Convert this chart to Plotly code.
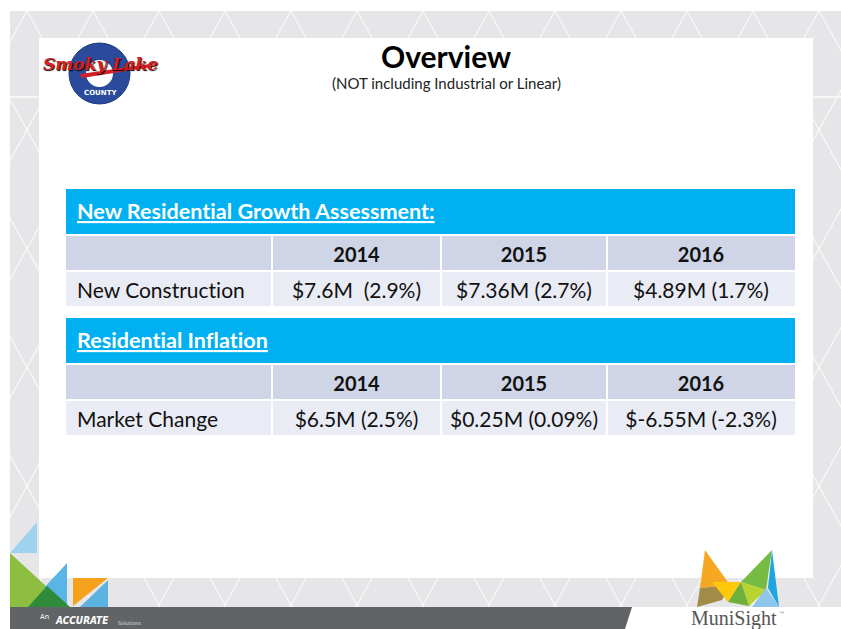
import plotly.graph_objects as go

W, H = 841, 629

# ---------------- data ----------------
title = "Overview"
subtitle = "(NOT including Industrial or Linear)"
years = ["2014", "2015", "2016"]
section1_title = "New Residential Growth Assessment:"
section1_label = "New Construction"
section1_values = ["$7.6M  (2.9%)", "$7.36M (2.7%)", "$4.89M (1.7%)"]
section2_title = "Residential Inflation"
section2_label = "Market Change"
section2_values = ["$6.5M (2.5%)", "$0.25M (0.09%)", "$-6.55M (-2.3%)"]

# ---------------- layout constants ----------------
FONT = "Lato, Calibri, sans-serif"
BLUE = "#00B0F0"
HEAD_FILL = "#CFD5E6"
ROW_FILL = "#E9EBF5"
BG_GRAY = "#E6E6E9"
COL_EDGES = [66, 272, 441, 607, 795]
GAP = 2
TABLE_TOPS = [189, 318]
BAND_H = 45
ROW_H = 34
TEXT_DY = 4  # trace text baseline correction


def nolig(s):
    # break font ligatures (ti, fl) so text looks like the original
    return s.replace("ti", "t\u200ci").replace("fl", "f\u200cl")


shapes = []
annotations = []


def rect(x0, y0, x1, y1, color):
    shapes.append(dict(type="rect", xref="x", yref="y", x0=x0, y0=y0, x1=x1, y1=y1,
                       fillcolor=color, line=dict(width=0), layer="below"))


def poly(pts, color):
    d = "M " + " L ".join(f"{x},{y}" for x, y in pts) + " Z"
    shapes.append(dict(type="path", xref="x", yref="y", path=d, fillcolor=color,
                       line=dict(width=0), layer="below"))


def seg(x0, y0, x1, y1, color, width):
    shapes.append(dict(type="line", xref="x", yref="y", x0=x0, y0=y0, x1=x1, y1=y1,
                       line=dict(color=color, width=width), layer="below"))


# ---------------- slide background ----------------
rect(10, 11, 841, 607, BG_GRAY)
slope = 1.8
ytop, ybot = 11, 607
for m in range(-14, 26):
    x0 = 27 + 66 * m
    seg(x0, ytop, x0 + (ybot - ytop) / slope, ybot, "rgba(255,255,255,0.75)", 1.2)
    seg(x0, ytop, x0 - (ybot - ytop) / slope, ybot, "rgba(255,255,255,0.75)", 1.2)
seg(10, 97, 841, 97, "rgba(255,255,255,0.9)", 1.5)
rect(0, 0, 10, 629, "white")
rect(39, 38, 813, 578, "white")

# bottom-left decoration
poly([(37, 522), (10, 553), (37, 553)], "#9FD2EE")
poly([(10, 553), (48, 588), (38, 607), (10, 607)], "#8DBE3F")
poly([(43, 589), (67, 563), (67, 607)], "#5AB4E5")
poly([(28, 607), (47, 586), (70, 607)], "#2E8B3A")
poly([(73, 578), (108, 578), (73, 606)], "#F5A11C")
poly([(108, 580), (108, 607), (80, 607)], "#5CB2E0")

# bottom dark bar
poly([(10, 607), (632, 607), (625, 629), (10, 629)], "#616467")

# MuniSight logo area (white behind) and mark
rect(686, 607, 800, 629, "white")
poly([(705, 550), (730, 585), (700, 588)], "#F7A823")
poly([(700, 588), (730, 585), (722, 600), (697, 607)], "#A08C48")
poly([(712, 582), (741, 582), (728, 602)], "#FFC80A")
poly([(772, 550), (741, 582), (766, 590)], "#76BC43")
poly([(741, 582), (766, 590), (749, 606)], "#B7D433")
poly([(772, 550), (779, 607), (768, 588)], "#1FA5DF")
poly([(766, 588), (779, 607), (752, 607)], "#8DC6EA")
poly([(728, 602), (741, 582), (749, 606)], "#6FAF3B")

# Smoky Lake logo
shapes.append(dict(type="circle", xref="x", yref="y", x0=69, y0=43, x1=130, y1=104,
                   fillcolor="#2A4B9B", line=dict(color="#1E3A80", width=1), layer="below"))
shapes.append(dict(type="circle", xref="x", yref="y", x0=86, y0=60, x1=113, y1=87,
                   fillcolor="white", line=dict(width=0), layer="below"))
poly([(80, 74), (150, 64), (152, 67), (82, 78)], "#D42027")

# ---------------- tables ----------------
for top in TABLE_TOPS:
    rect(COL_EDGES[0], top, COL_EDGES[-1], top + BAND_H, BLUE)
    hy0 = top + BAND_H + GAP
    dy0 = hy0 + ROW_H + GAP
    for i in range(4):
        x0 = COL_EDGES[i] + (0 if i == 0 else GAP / 2)
        x1 = COL_EDGES[i + 1] - (0 if i == 3 else GAP / 2)
        rect(x0, hy0, x1, hy0 + ROW_H, HEAD_FILL)
        rect(x0, dy0, x1, dy0 + ROW_H, ROW_FILL)

col_centers = [(COL_EDGES[i] + COL_EDGES[i + 1]) / 2 for i in range(1, 4)]
fig = go.Figure()

sections = [
    (TABLE_TOPS[0], section1_title, section1_label, section1_values),
    (TABLE_TOPS[1], section2_title, section2_label, section2_values),
]
for top, stitle, label, values in sections:
    hy = top + BAND_H + GAP + ROW_H / 2
    dy = top + BAND_H + GAP + ROW_H + GAP + ROW_H / 2
    fig.add_trace(go.Scatter(
        x=col_centers, y=[hy + TEXT_DY] * 3, mode="text",
        text=[f"<b>{y}</b>" for y in years], textposition="middle center",
        textfont=dict(family=FONT, size=20, color="#111111"),
        hoverinfo="skip", showlegend=False))
    fig.add_trace(go.Scatter(
        x=col_centers, y=[dy + TEXT_DY] * 3, mode="text",
        text=[v.replace("  ", " \u00a0") for v in values], textposition="middle center",
        textfont=dict(family=FONT, size=21, color="#111111"),
        hoverinfo="skip", showlegend=False))
    annotations.append(dict(x=75, y=top + BAND_H / 2 - 1, xref="x", yref="y",
                            text=f"<b><u>{nolig(stitle)}</u></b>", showarrow=False,
                            xanchor="left", yanchor="middle",
                            font=dict(family=FONT, size=21.6, color="white")))
    annotations.append(dict(x=75, y=dy, xref="x", yref="y", text=nolig(label), showarrow=False,
                            xanchor="left", yanchor="middle",
                            font=dict(family=FONT, size=21, color="#111111")))

# titles
annotations.append(dict(x=446, y=56, xref="x", yref="y", text=f"<b>{title}</b>", showarrow=False,
                        xanchor="center", yanchor="middle",
                        font=dict(family=FONT, size=30, color="black")))
annotations.append(dict(x=446, y=83, xref="x", yref="y", text=subtitle, showarrow=False,
                        xanchor="center", yanchor="middle",
                        font=dict(family=FONT, size=15, color="#222222")))

# logo texts
annotations.append(dict(x=100, y=64, xref="x", yref="y", text="<b><i>Smoky Lake</i></b>",
                        showarrow=False, xanchor="center", yanchor="middle",
                        font=dict(family="DejaVu Serif", size=17, color="#D42027",
                                  shadow="1px 1px 1px #000")))
annotations.append(dict(x=100, y=93, xref="x", yref="y", text="<b>COUNTY</b>",
                        showarrow=False, xanchor="center", yanchor="middle",
                        font=dict(family="DejaVu Sans", size=7, color="white")))
annotations.append(dict(x=734, y=618, xref="x", yref="y", text="MuniSight",
                        showarrow=False, xanchor="center", yanchor="middle",
                        font=dict(family="Liberation Serif, DejaVu Serif", size=20, color="#555555")))
annotations.append(dict(x=782, y=613, xref="x", yref="y", text="™",
                        showarrow=False, xanchor="center", yanchor="middle",
                        font=dict(family="DejaVu Sans", size=6, color="#555555")))
annotations.append(dict(x=44, y=617, xref="x", yref="y", text="An",
                        showarrow=False, xanchor="center", yanchor="middle",
                        font=dict(family="DejaVu Sans", size=7, color="white")))
annotations.append(dict(x=82, y=620, xref="x", yref="y", text="<b><i>ACCURATE</i></b>",
                        showarrow=False, xanchor="center", yanchor="middle",
                        font=dict(family="DejaVu Sans Condensed, DejaVu Sans", size=10, color="white")))
annotations.append(dict(x=116, y=623, xref="x", yref="y", text="Solutions",
                        showarrow=False, xanchor="left", yanchor="middle",
                        font=dict(family="DejaVu Sans", size=5, color="#DDDDDD")))

fig.update_layout(
    width=W, height=H,
    margin=dict(l=0, r=0, t=0, b=0),
    paper_bgcolor="white", plot_bgcolor="white",
    xaxis=dict(range=[0, W], visible=False, fixedrange=True),
    yaxis=dict(range=[H, 0], visible=False, fixedrange=True),
    shapes=shapes, annotations=annotations,
    showlegend=False,
)
fig.write_html("out.html", config={"displayModeBar": False},
               post_script="document.body.style.margin='0';document.body.style.overflow='hidden';")
